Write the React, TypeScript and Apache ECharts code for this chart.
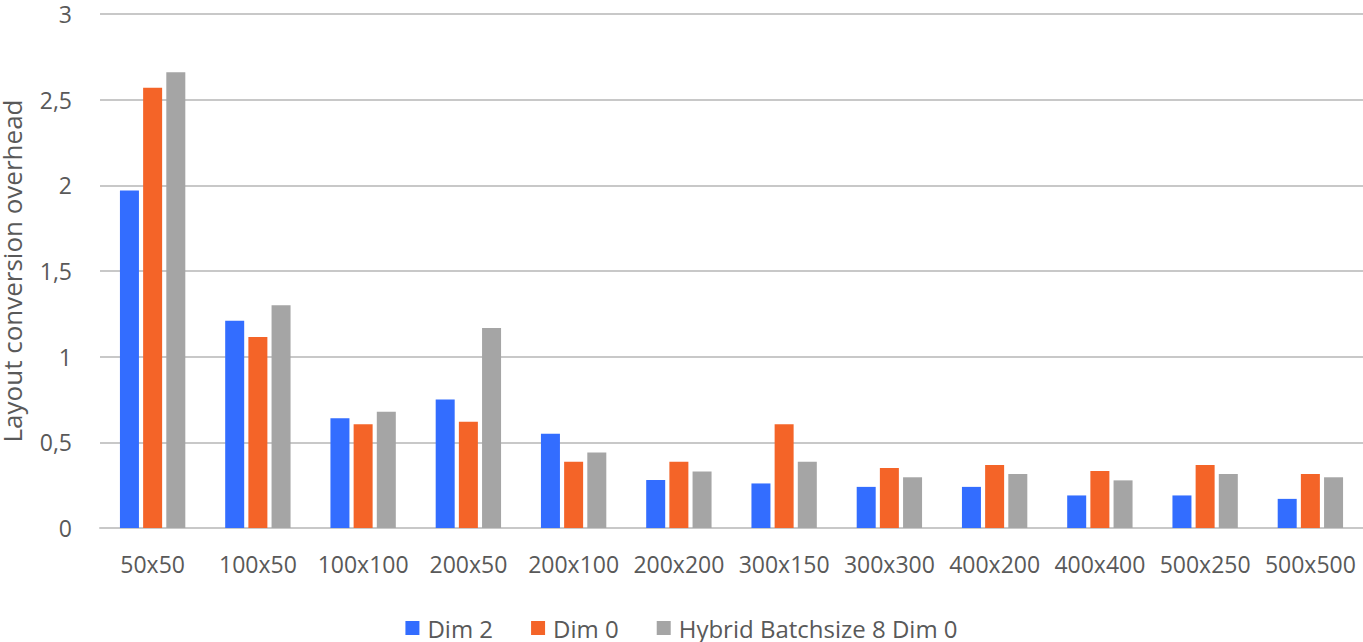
import React, { useEffect, useRef } from "react";
import * as echarts from "echarts";

const categories = ["50x50", "100x50", "100x100", "200x50", "200x100", "200x200", "300x150", "300x300", "400x200", "400x400", "500x250", "500x500"];
const dim2 = [1.97, 1.21, 0.64, 0.75, 0.55, 0.28, 0.26, 0.24, 0.24, 0.19, 0.19, 0.17];
const dim0 = [2.57, 1.115, 0.605, 0.62, 0.387, 0.387, 0.605, 0.35, 0.367, 0.332, 0.367, 0.315];
const hybrid = [2.66, 1.30, 0.678, 1.168, 0.441, 0.33, 0.387, 0.296, 0.315, 0.278, 0.315, 0.296];
const seriesNames = ["Dim 2", "Dim 0", "Hybrid Batchsize 8 Dim 0"];
const colors = ["#336DFF", "#F46428", "#A5A5A5"];

const FONT = "'Open Sans', 'Liberation Sans', Arial, sans-serif";
const TEXT = "#595959";

export default function App() {
  const ref = useRef<HTMLDivElement>(null);
  useEffect(() => {
    document.body.style.margin = "0";
    if (!ref.current) return;
    const chart = echarts.init(ref.current, undefined, { renderer: "svg" });
    const values = [dim2, dim0, hybrid];
    chart.setOption({
      animation: false,
      backgroundColor: "#ffffff",
      textStyle: { fontFamily: FONT },
      grid: { left: 100, right: 0, top: 14, bottom: 114, containLabel: false, outerBoundsMode: "none" },
      legend: {
        data: seriesNames,
        left: "center",
        top: 611,
        itemWidth: 14,
        itemHeight: 14,
        itemGap: 38,
        icon: "rect",
        textStyle: { fontSize: 24, lineHeight: 24, color: TEXT, fontFamily: FONT, padding: [0, 0, 0, 3] },
      },
      xAxis: {
        type: "category",
        data: categories,
        axisLine: { show: true, lineStyle: { color: "#C8C8C8", width: 2 } },
        axisTick: { show: false },
        axisLabel: { interval: 0, margin: 24, fontSize: 23, color: TEXT, fontFamily: FONT },
      },
      yAxis: {
        type: "value",
        min: 0,
        max: 3,
        interval: 0.5,
        name: "Layout conversion overhead",
        nameLocation: "middle",
        nameGap: 75,
        nameTextStyle: { fontSize: 26, lineHeight: 26, color: TEXT, fontFamily: FONT },
        axisLine: { show: false },
        axisTick: { show: false },
        axisLabel: {
          margin: 28,
          fontSize: 23,
          lineHeight: 22,
          color: TEXT,
          fontFamily: FONT,
          formatter: (v: number) => String(v).replace(".", ","),
        },
        splitLine: { lineStyle: { color: "#C8C8C8", width: 2 } },
      },
      series: seriesNames.map((name, i) => ({
        name,
        type: "bar",
        data: values[i],
        barWidth: 19,
        barGap: "22%",
        itemStyle: { color: colors[i] },
      })),
    });
    return () => chart.dispose();
  }, []);
  return (
    <div
      ref={ref}
      style={{ position: "absolute", left: 0, top: 0, width: 1363, height: 642 }}
    />
  );
}
